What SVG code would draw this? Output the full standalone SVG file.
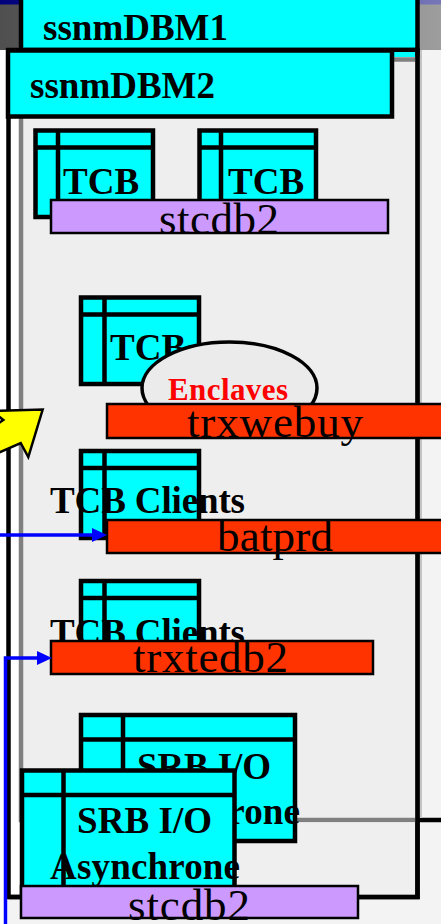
<svg xmlns="http://www.w3.org/2000/svg" width="441" height="924" viewBox="0 0 441 924">
<defs>
<linearGradient id="gTop" x1="0" y1="0" x2="1" y2="0"><stop offset="0" stop-color="#4f4f4f"/><stop offset="1" stop-color="#9d9d9d"/></linearGradient>
<linearGradient id="gBlue" x1="0" y1="0" x2="1" y2="0"><stop offset="0" stop-color="#00007c"/><stop offset="1" stop-color="#7676b8"/></linearGradient>
<marker id="arr" viewBox="0 0 15 14" refX="4" refY="7" markerWidth="15" markerHeight="14" markerUnits="userSpaceOnUse" orient="auto">
<path d="M0,0 L15,7 L0,14 z" fill="#0000ff"/>
</marker>
<style>
.hdr{fill:#00ffff;stroke:#000;stroke-width:4.5}
.ic{fill:#00ffff;stroke:#000;stroke-width:4.5}
.icl{stroke:#000;stroke-width:4.5;fill:none}
.bar{stroke:#000;stroke-width:2.5}
.db{fill:#ff3300}
.pu{fill:#cc99ff}
.b{font-family:"Liberation Serif","Times New Roman",serif;font-weight:bold;font-size:37px;fill:#000}
.r{font-family:"Liberation Serif","Times New Roman",serif;font-size:45px;fill:#000}
.en{font-family:"Liberation Serif","Times New Roman",serif;font-weight:bold;font-size:31px;fill:#ff0000}
.con{fill:none;stroke:#0000ff;stroke-width:3.5}
</style>
</defs>
<g id="background">
<rect x="0" y="0" width="441" height="924" fill="#f3f3f3"/>
<rect x="0" y="0" width="441" height="50" fill="url(#gTop)"/>
<rect x="0" y="0" width="441" height="4.5" fill="url(#gBlue)"/>
<rect x="0" y="50" width="8" height="874" fill="#ffffff"/>
</g>
<g id="ssnmDBM1">
<rect class="hdr" x="21" y="-5" width="396.5" height="55"/>
<text class="b" x="43" y="40">ssnmDBM1</text>
</g>
<g id="frames">
<rect x="8.5" y="50" width="409" height="847" fill="#ffffff" stroke="#000" stroke-width="4.5"/>
<rect x="392" y="52" width="23" height="5" fill="#00ffff"/>
<rect x="21" y="59.5" width="396.5" height="760.5" fill="#eeeeee" stroke="#808080" stroke-width="4.5"/>
<rect x="23.5" y="822.5" width="391.5" height="72" fill="#efefef"/>
<line x1="8.5" y1="897" x2="419.5" y2="897" stroke="#000" stroke-width="4.5"/>
<line x1="417.5" y1="50" x2="417.5" y2="899" stroke="#000" stroke-width="4.5"/>
<line x1="417" y1="820" x2="441" y2="820" stroke="#000" stroke-width="4.5"/>
<line x1="421" y1="50" x2="421" y2="818" stroke="#c4c4c4" stroke-width="2"/>
</g>
<g id="ssnmDBM2">
<rect class="hdr" x="8" y="50.5" width="384" height="66"/>
<text class="b" x="30" y="98">ssnmDBM2</text>
</g>
<g id="tcb1">
<rect class="ic" x="35.5" y="130.5" width="117.5" height="86.5"/>
<path class="icl" d="M58,130.5 V217 M35.5,147.5 H153"/>
<text class="b" x="63" y="194">TCB</text>
</g>
<g id="tcb2">
<rect class="ic" x="199.5" y="130.5" width="116.5" height="86.5"/>
<path class="icl" d="M221,130.5 V217 M199.5,147.5 H316"/>
<text class="b" x="228" y="194">TCB</text>
</g>
<g id="stcdb2-top">
<rect class="bar pu" x="51" y="200" width="337" height="33"/>
<text class="r" x="219" y="234" text-anchor="middle" textLength="120">stcdb2</text>
</g>
<g id="tcb3">
<rect class="ic" x="81" y="297.5" width="118" height="86.5"/>
<path class="icl" d="M104.5,297.5 V384 M81,314.5 H199"/>
<text class="b" x="110" y="360">TCB</text>
</g>
<g id="enclaves">
<ellipse cx="229.5" cy="388" rx="87.5" ry="46" fill="#ebebeb" stroke="#000" stroke-width="3.5"/>
<text class="en" x="168" y="400" textLength="120">Enclaves</text>
</g>
<g id="trxwebuy">
<rect class="bar db" x="107" y="404" width="340" height="34"/>
<text class="r" x="187" y="437" textLength="176">trxwebuy</text>
</g>
<g id="tcb4">
<rect class="ic" x="81" y="451" width="118" height="87"/>
<path class="icl" d="M104.5,451 V538 M81,468 H199"/>
<text class="b" x="50" y="513" textLength="195">TCB Clients</text>
</g>
<g id="batprd">
<rect class="bar db" x="107" y="520" width="340" height="33"/>
<text class="r" x="217" y="551" textLength="116">batprd</text>
</g>
<g id="tcb5">
<rect class="ic" x="81" y="581" width="118" height="87"/>
<path class="icl" d="M104.5,581 V668 M81,598 H199"/>
<text class="b" x="50" y="645" textLength="195">TCB Clients</text>
</g>
<g id="trxtedb2">
<rect class="bar db" x="51" y="641" width="322" height="33"/>
<text class="r" x="133" y="672" textLength="155">trxtedb2</text>
</g>
<g id="srb-back">
<rect class="ic" x="81" y="715" width="214" height="126"/>
<path class="icl" d="M123,715 V841 M81,739.5 H295"/>
<text class="b" x="137" y="779" textLength="134">SRB I/O</text>
<text class="b" x="110" y="824" textLength="190">Asynchrone</text>
</g>
<g id="srb-front">
<rect class="ic" x="22" y="770.5" width="212.5" height="124"/>
<path class="icl" d="M63.5,770.5 V894.5 M22,795 H234.5"/>
<text class="b" x="77" y="833" textLength="135">SRB I/O</text>
<text class="b" x="50" y="879" textLength="190">Asynchrone</text>
</g>
<g id="stcdb2-bottom">
<rect class="bar pu" x="21" y="886" width="337" height="32"/>
<text class="r" x="128" y="920" textLength="122">stcdb2</text>
</g>
<g id="pointer">
<polygon points="42.7,409.5 28.3,457 20.7,443 -20,461 -20,436 3.3,420 -8,411" fill="#ffff00" stroke="#000" stroke-width="2.5" stroke-linejoin="miter"/>
</g>
<g id="connectors">
<path class="con" d="M0,535 H96" marker-end="url(#arr)"/>
<path class="con" d="M5.5,926 V658 H41" marker-end="url(#arr)"/>
</g>
</svg>
